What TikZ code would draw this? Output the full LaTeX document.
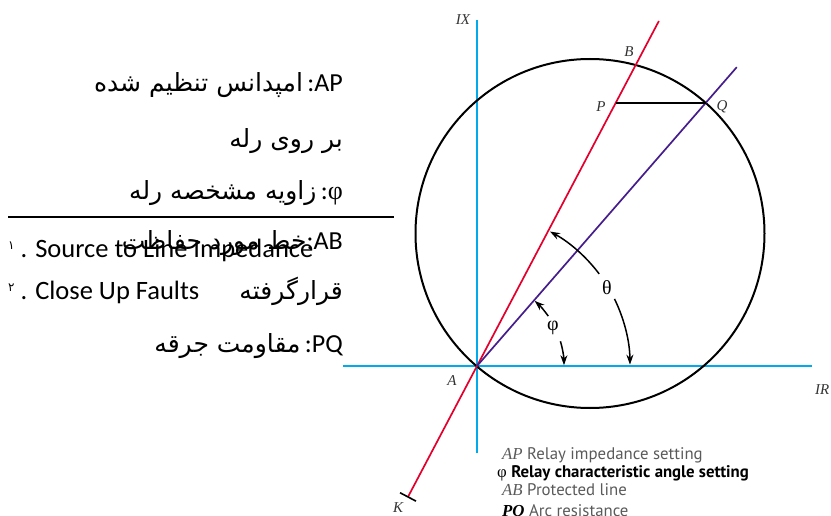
\documentclass[tikz,border=0pt]{standalone}
\usepackage{fontspec}
\setmainfont{Liberation Serif}
\newfontfamily\calfont{Carlito}
\newfontfamily\fafont[Script=Arabic]{DejaVu Sans}
\newfontfamily\lgfont{PT Sans}
\TeXXeTstate=1
\usetikzlibrary{arrows.meta,calc}
\definecolor{axisblue}{RGB}{0,170,235}
\definecolor{linered}{RGB}{228,0,45}
\definecolor{linepurple}{RGB}{70,30,140}
\definecolor{lgray}{RGB}{90,90,90}
\newcommand{\fasize}{\fafont\fontsize{25}{25}\selectfont}
\tikzset{
  axis/.style={draw=axisblue,line width=1.5pt},
  redline/.style={draw=linered,line width=1.7pt},
  purpline/.style={draw=linepurple,line width=1.7pt},
  angarrow/.style={draw=black,line width=1.5pt,-{Stealth[length=10pt,width=7pt]}},
  ptlabel/.style={font=\fontsize{15}{15}\selectfont\itshape,text=black!80,inner sep=0pt},
  fatext/.style={anchor=base east,inner sep=0pt,font=\calfont\fontsize{26}{26}\selectfont},
  notetext/.style={anchor=base west,inner sep=0pt,font=\calfont\fontsize{26.5}{26.5}\selectfont},
  legend/.style={anchor=base west,inner sep=0pt,font=\lgfont\fontsize{16.8}{16.8}\selectfont,text=lgray}
}
\begin{document}
\begin{tikzpicture}[x=1pt,y=1pt]
\useasboundingbox (0,0) rectangle (831,515);
% key points
\coordinate (A) at (477,149);
\coordinate (O) at (590,281.5);
\coordinate (IXt) at (477,495);
\coordinate (IXb) at (477,62);
\coordinate (IRl) at (343,149);
\coordinate (IRr) at (812,149);
\coordinate (Rt) at ($(A)+(62.2:390)$);
\coordinate (Rb) at ($(A)+(242.2:148)$);
\coordinate (Pt) at ($(A)+(49:396)$);
\coordinate (P) at (615.7,412);
\coordinate (Q) at (705.6,412);
% axes
\draw[axis] (IXb) -- (IXt);
\draw[axis] (IRl) -- (IRr);
% circle
\draw[line width=2pt] (O) circle[radius=174.5];
% lines
\draw[redline] (Rb) -- (Rt);
\draw[purpline] (A) -- (Pt);
\draw[line width=1.2pt] (P) -- (Q);
% K tick
\coordinate (K1) at ($(Rb)+(152.2:9)$);
\coordinate (K2) at ($(Rb)+(332.2:9)$);
\draw[line width=1.6pt] (K1) -- (K2);
% theta arcs
\draw[angarrow] ($(A)+(37:153)$) arc[start angle=37,end angle=61.5,radius=153];
\draw[angarrow] ($(A)+(26:153)$) arc[start angle=26,end angle=0.5,radius=153];
% phi arcs
\draw[angarrow] ($(A)+(35:87)$) arc[start angle=35,end angle=48.5,radius=87];
\draw[angarrow] ($(A)+(16.5:87)$) arc[start angle=16.5,end angle=0.5,radius=87];
\node[font=\fontsize{20}{20}\selectfont] (theta) at (607,227) {θ};
\node[font=\fontsize{20}{20}\selectfont] (phi) at (553,187) {φ};
% point labels
\node[ptlabel] (lIX) at (463,495) {IX};
\node[ptlabel] (lB) at (629,463) {B};
\node[ptlabel] (lP) at (601,408) {P};
\node[ptlabel] (lQ) at (722,408) {Q};
\node[ptlabel] (lA) at (452,134) {A};
\node[ptlabel,anchor=west] (lIR) at (815,125) {IR};
\node[ptlabel] (lK) at (398,7) {K};
% legend
\node[legend] (lg1) at (502,56) {{\rmfamily\itshape AP} Relay impedance setting};
\node[legend,text=black] (lg2) at (497,38) {{\rmfamily φ} \bfseries Relay characteristic angle setting};
\node[legend] (lg3) at (502,19.5) {{\rmfamily\itshape AB} Protected line};
\node[legend] (lg4) at (502,-1.5) {{\rmfamily\itshape\bfseries\color{black} PQ} Arc resistance};
% Persian notes
\node[fatext] (n1) at (343,423) {{\fasize\beginR امپدانس تنظیم شده\endR}\,:AP};
\node[fatext] (n2) at (343,367) {{\fasize\beginR بر روی رله\endR}};
\node[fatext] (n3) at (343,315) {{\fasize\beginR زاویه مشخصه رله\endR}\,:{\rmfamily φ}};
\draw[line width=2.7pt] (8,298) coordinate (hl1) -- (394,298) coordinate (hl2);
\node[fatext] (n4) at (343,265) {{\fasize\beginR خط مورد حفاظت\endR}:AB};
\node[fatext] (n5) at (343,215) {{\fasize\beginR قرارگرفته\endR}};
\node[fatext] (n6) at (343,162) {{\fasize\beginR مقاومت جرقه\endR}\,:PQ};
% footnotes
\node[notetext] (f1) at (8,257) {\raisebox{8pt}{\fafont\fontsize{12}{12}\selectfont ۱} . Source to Line Impedance};
\node[notetext] (f2) at (8,215) {\raisebox{8pt}{\fafont\fontsize{12}{12}\selectfont ۲} . Close Up Faults};
\end{tikzpicture}
\end{document}
